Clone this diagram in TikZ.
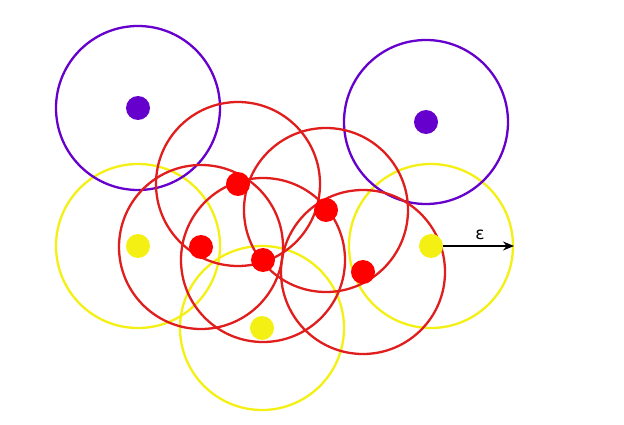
\documentclass[tikz,border=0pt]{standalone}
\usepackage{fontspec}
\setmainfont{DejaVu Sans}
\usetikzlibrary{arrows.meta}
\definecolor{pur}{RGB}{102,0,204}
\definecolor{redc}{RGB}{225,30,30}
\definecolor{yel}{RGB}{245,240,20}
\begin{document}
\begin{tikzpicture}[x=1pt,y=-1pt,
  ring/.style={draw=#1,line width=2.3pt,circle,minimum size=164pt,inner sep=0pt},
  dot/.style={fill=#1,circle,minimum size=24pt,inner sep=0pt}]
\useasboundingbox[fill=white] (0,0) rectangle (624,425);
% yellow
\node[ring=yel] (y1) at (138,246) {};
\node[ring=yel] (y2) at (262,328) {};
\node[ring=yel] (y3) at (431,246) {};
% purple
\node[ring=pur] (p1) at (138,108) {};
\node[ring=pur] (p2) at (426,122) {};
% red
\node[ring=redc] (r1) at (238,184) {};
\node[ring=redc] (r2) at (201,247) {};
\node[ring=redc] (r3) at (263,260) {};
\node[ring=redc] (r4) at (326,210) {};
\node[ring=redc] (r5) at (363,272) {};
% dots
\node[dot=pur] (dp1) at (138,108) {};
\node[dot=pur] (dp2) at (426,122) {};
\node[dot=yel] (dy1) at (138,246) {};
\node[dot=yel] (dy2) at (262,328) {};
\node[dot=yel] (dy3) at (431,246) {};
\node[dot=red] (dr1) at (238,184) {};
\node[dot=red] (dr2) at (201,247) {};
\node[dot=red] (dr3) at (263,260) {};
\node[dot=red] (dr4) at (326,210) {};
\node[dot=red] (dr5) at (363,272) {};
\coordinate (e) at (514,246);
\draw[line width=1.4pt,-{Stealth[length=11pt,width=9pt]}] (dy3.east) -- (e);
\node[font=\fontsize{17}{17}\selectfont] (eps) at (480,235) {ε};
\end{tikzpicture}
\end{document}
